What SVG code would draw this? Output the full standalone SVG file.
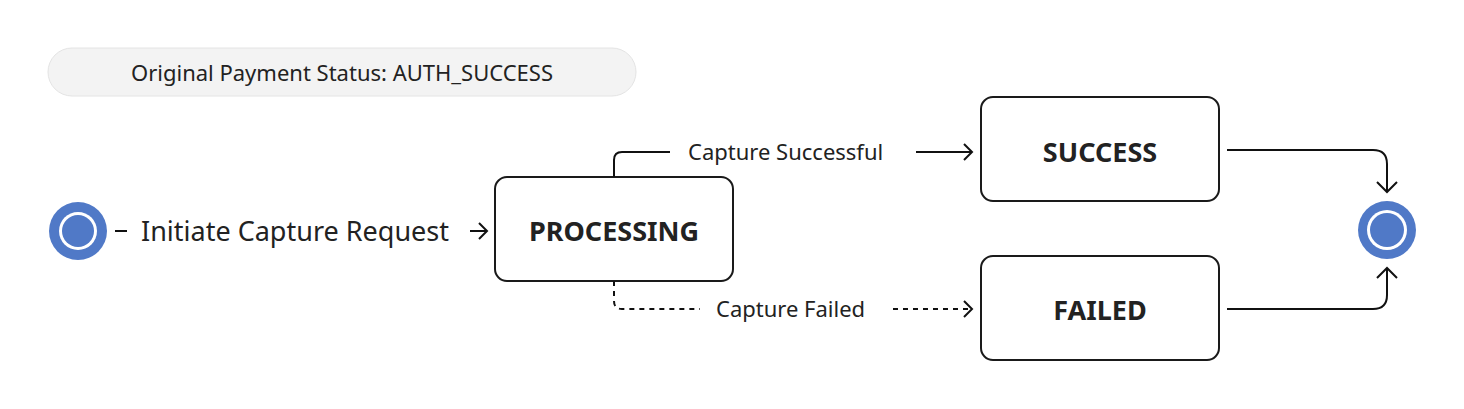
<svg xmlns="http://www.w3.org/2000/svg" width="1464" height="409" viewBox="0 0 1464 409">
<style>
.box{fill:#fff;stroke:#1a1a1a;stroke-width:2}
.t{font-family:"Source Sans Pro","Noto Sans","Liberation Sans",sans-serif;fill:#222;}
.n{font-size:27px;font-weight:bold;text-anchor:middle}
.l{font-size:22px}
.c{fill:none;stroke:#111;stroke-width:2}
.d{stroke-dasharray:5 5}
.ah{fill:none;stroke:#111;stroke-width:2}
</style>
<rect x="48" y="48" width="588" height="48" rx="24" fill="#f3f3f3" stroke="#e4e4e4"/>
<text class="t" x="342" y="81" font-size="22" text-anchor="middle">Original Payment Status: AUTH_SUCCESS</text>
<g id="start"><circle cx="78" cy="231" r="29" fill="#5079c7"/><circle cx="78" cy="231" r="19" fill="#fff"/><circle cx="78" cy="231" r="16" fill="#5079c7"/></g>
<g id="end"><circle cx="1387" cy="230" r="29" fill="#5079c7"/><circle cx="1387" cy="230" r="20" fill="#fff"/><circle cx="1387" cy="230" r="17" fill="#5079c7"/></g>
<g id="processing"><rect class="box" x="495" y="177" width="238" height="104" rx="12"/><text class="t n" x="614" y="241">PROCESSING</text></g>
<g id="success"><rect class="box" x="981" y="97" width="238" height="104" rx="12"/><text class="t n" x="1100" y="162">SUCCESS</text></g>
<g id="failed"><rect class="box" x="981" y="256" width="238" height="104" rx="12"/><text class="t n" x="1100" y="320">FAILED</text></g>
<g id="connectors">
<path class="c" d="M115 231H127"/>
<text class="t" x="141" y="241" font-size="27">Initiate Capture Request</text>
<path class="c" d="M470 231H486"/><path class="ah" d="M479 223L487 231L479 239"/>
<path class="c" d="M614 177V160Q614 152 622 152H670"/>
<text class="t l" x="688" y="160">Capture Successful</text>
<path class="c" d="M916 152H972"/><path class="ah" d="M964 144L972 152L964 160"/>
<path class="c d" d="M614 281V301Q614 309 622 309H700"/>
<text class="t l" x="716" y="317">Capture Failed</text>
<path class="c d" d="M893 309H972"/><path class="ah" d="M964 301L972 309L964 317"/>
<path class="c" d="M1227 150H1373Q1387 150 1387 164V192"/><path class="ah" d="M1377 182L1387 192L1397 182"/>
<path class="c" d="M1227 309H1373Q1387 309 1387 295V268"/><path class="ah" d="M1377 278L1387 268L1397 278"/>
</g>
</svg>
